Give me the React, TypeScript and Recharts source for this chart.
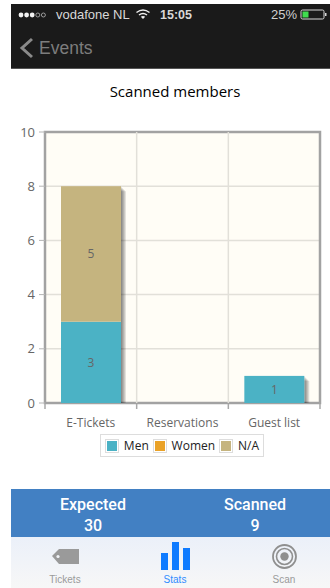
import React from 'react';
import { BarChart, Bar, XAxis, YAxis, CartesianGrid, Legend, LabelList, ReferenceArea, ReferenceLine } from 'recharts';

const categories = ['E-Tickets', 'Reservations', 'Guest list'];
const men = [3, 0, 1];
const women = [0, 0, 0];
const notAvailable = [5, 0, 0];
const yTicks = [0, 2, 4, 6, 8, 10];
const bandEdges = [0, 1, 2, 3];

const seriesNames = ['Men', 'Women', 'N/A'];
const seriesColors = ['#4bb2c5', '#eaa228', '#c5b47f'];

const expected = 30;
const scanned = 9;
const tabs = ['Tickets', 'Stats', 'Scan'];

const data = categories.map((name, i) => ({
  name,
  edge: bandEdges[i],
  men: men[i],
  women: women[i],
  na: notAvailable[i],
}));

const CHART_FONT = '"Open Sans", sans-serif';
const UI_FONT = '"Liberation Sans", sans-serif';

// bar with a soft stepped shadow strip on its right side, kept inside the plot
const ShadowBar = (props: any) => {
  const { x, y, width, height, fill, background } = props;
  if (!height || height <= 0) return null;
  const floor = background ? background.y + background.height : y + height;
  const layers = [1, 2, 3, 4, 5];
  return (
    <g>
      {layers.map((d) => (
        <rect
          key={d}
          x={x + width}
          y={y + d}
          width={d}
          height={Math.max(Math.min(y + height + d, floor) - (y + d), 0)}
          fill="#000"
          fillOpacity={0.11}
        />
      ))}
      <rect x={x} y={y} width={width} height={height} fill={fill} />
    </g>
  );
};

const valueLabel = (v: any) => (v ? v : '');

const ChartLegend = () => (
  <div
    style={{
      boxSizing: 'border-box',
      height: 23,
      width: 164,
      border: '1px solid #dddddd',
      background: '#fff',
      display: 'flex',
      alignItems: 'center',
      paddingLeft: 4,
      fontFamily: CHART_FONT,
      fontSize: 12,
      color: '#222',
    }}
  >
    {seriesNames.map((name, i) => (
      <React.Fragment key={name}>
        <span
          style={{
            boxSizing: 'border-box',
            width: 16,
            height: 14,
            border: '1px solid #dddddd',
            padding: 1,
            marginRight: 5,
            display: 'inline-block',
          }}
        >
          <span style={{ display: 'block', width: '100%', height: '100%', background: seriesColors[i] }} />
        </span>
        <span style={{ marginRight: 4 }}>{name}</span>
      </React.Fragment>
    ))}
  </div>
);

const Box = ({ l, t, w, h, style, children }: any) => (
  <div style={{ position: 'absolute', left: l, top: t, width: w, height: h, ...style }}>{children}</div>
);

const CenterText = ({ cx, cy, size, color, weight, font, children }: any) => (
  <div
    style={{
      position: 'absolute',
      left: cx - 80,
      width: 160,
      top: cy - 12,
      height: 24,
      lineHeight: '24px',
      textAlign: 'center',
      fontSize: size,
      color,
      fontWeight: weight,
      fontFamily: font || UI_FONT,
      whiteSpace: 'nowrap',
    }}
  >
    {children}
  </div>
);

const StatusBar = () => (
  <>
    <svg style={{ position: 'absolute', left: 18, top: 11 }} width="30" height="8">
      {[0, 1, 2].map((i) => (
        <circle key={i} cx={3 + i * 5.6} cy={4} r={2.4} fill="#f2f2f2" />
      ))}
      {[3, 4].map((i) => (
        <circle key={i} cx={3 + i * 5.6} cy={4} r={2} fill="none" stroke="#cccccc" strokeWidth={0.7} />
      ))}
    </svg>
    <div style={{ position: 'absolute', left: 56, top: 7, lineHeight: '16px', fontSize: 13, color: '#d8d8d8', fontFamily: UI_FONT }}>
      vodafone NL
    </div>
    <svg style={{ position: 'absolute', left: 135, top: 8 }} width="16" height="12" fill="none" stroke="#eeeeee" strokeWidth={1.5}>
      <path d="M1.5 4.5 Q8 -0.5 14.5 4.5" />
      <path d="M4 7 Q8 3.8 12 7" />
      <path d="M8 11 L5.8 8.8 Q8 7.2 10.2 8.8 Z" fill="#eeeeee" stroke="none" />
    </svg>
    <div style={{ position: 'absolute', left: 160, top: 7, lineHeight: '16px', fontSize: 12.5, fontWeight: 700, color: '#d8d8d8', fontFamily: UI_FONT }}>
      15:05
    </div>
    <div style={{ position: 'absolute', left: 271, top: 7, lineHeight: '16px', fontSize: 13, color: '#d0d0d0', fontFamily: UI_FONT }}>
      25%
    </div>
    <svg style={{ position: 'absolute', left: 300, top: 9 }} width="30" height="11">
      <rect x="1" y="1" width="23" height="9" fill="none" stroke="#d8d8d8" strokeWidth={1} rx={1.5} />
      <rect x="2.5" y="2.5" width="6" height="6" fill="#3fdc4f" />
      <rect x="25" y="4" width="1.5" height="3" fill="#d8d8d8" />
    </svg>
  </>
);

const TabIcons = () => (
  <>
    {/* price tag */}
    <svg style={{ position: 'absolute', left: 52, top: 547 }} width="28" height="18">
      <path d="M0 9 L7 2 L27 2 L27 17 L7 17 Z" fill="#9a9a9a" />
      <circle cx="6" cy="9.5" r="1.6" fill="#f2f4f8" />
    </svg>
    {/* stats bars */}
    <svg style={{ position: 'absolute', left: 160, top: 541 }} width="31" height="30" fill="#0f7bff">
      <rect x="1" y="12" width="7" height="17" />
      <rect x="12" y="1" width="7" height="28" />
      <rect x="23" y="7" width="7" height="22" />
    </svg>
    {/* target */}
    <svg style={{ position: 'absolute', left: 271, top: 543 }} width="27" height="27" fill="none" stroke="#8f8f8f">
      <circle cx="13.5" cy="13.5" r="11.5" strokeWidth={1.8} />
      <circle cx="13.5" cy="13.5" r="8" strokeWidth={1.6} />
      <circle cx="13.5" cy="13.5" r="4.2" fill="#8f8f8f" strokeWidth={0} />
    </svg>
  </>
);

export default function App() {
  return (
    <div style={{ position: 'absolute', left: 0, top: 0, width: 330, height: 588, overflow: 'hidden', background: '#fff' }}>
      <Box l={11} t={4} w={319} h={65} style={{ background: '#1a1a1a', borderBottom: '1px solid #555', boxSizing: 'border-box' }} />
      <StatusBar />
      <svg style={{ position: 'absolute', left: 19, top: 37 }} width="16" height="22" fill="none" stroke="#8a8a8a" strokeWidth={3}>
        <path d="M13 2 L3 11 L13 20" />
      </svg>
      <div style={{ position: 'absolute', left: 39, top: 36, lineHeight: '24px', fontSize: 17.5, color: '#7d7d7d', fontFamily: UI_FONT }}>
        Events
      </div>

      <CenterText cx={175} cy={91} size={15} color="#000" font={CHART_FONT}>Scanned members</CenterText>

      <div style={{ position: 'absolute', left: 0, top: 120 }}>
        <BarChart
          width={330}
          height={345}
          data={data}
          barSize={60}
          margin={{ top: 12, right: 10, left: 0, bottom: 2 }}
        >
          <CartesianGrid stroke="#e2e0d9" strokeWidth={1.5} vertical={false} fill="#fffdf6" fillOpacity={1} />
          {/* category axis sits first, so the boundary axis ticks land right under the plot */}
          <XAxis
            dataKey="name"
            height={1}
            tickLine={false}
            axisLine={false}
            tickMargin={9}
            interval={0}
            tick={{ fontSize: 12, fill: '#666', fontFamily: CHART_FONT }}
          />
          <XAxis
            xAxisId="edges"
            dataKey="edge"
            type="number"
            domain={[0, 3]}
            allowDataOverflow
            ticks={bandEdges}
            interval={0}
            height={36}
            tick={() => <g />}
            tickSize={5}
            tickLine={{ stroke: '#a8a8a8', strokeWidth: 1.5 }}
            axisLine={false}
          />
          <YAxis
            width={45}
            domain={[0, 10]}
            ticks={yTicks}
            tickSize={6}
            tickMargin={4}
            tickLine={{ stroke: '#b5b5b5', strokeWidth: 1 }}
            axisLine={false}
            tick={{ fontSize: 13, fill: '#666', fontFamily: CHART_FONT }}
          />
          {bandEdges.slice(1, -1).map((edge) => (
            <ReferenceLine key={edge} xAxisId="edges" x={edge} stroke="#e2e0d9" strokeWidth={1.5} />
          ))}
          <Bar dataKey="men" name={seriesNames[0]} stackId="a" fill={seriesColors[0]} shape={ShadowBar} isAnimationActive={false}>
            <LabelList dataKey="men" position="center" formatter={valueLabel} fill="#666" fontSize={12} fontFamily={CHART_FONT} />
          </Bar>
          <Bar dataKey="women" name={seriesNames[1]} stackId="a" fill={seriesColors[1]} shape={ShadowBar} isAnimationActive={false}>
            <LabelList dataKey="women" position="center" formatter={valueLabel} fill="#666" fontSize={12} fontFamily={CHART_FONT} />
          </Bar>
          <Bar dataKey="na" name={seriesNames[2]} stackId="a" fill={seriesColors[2]} shape={ShadowBar} isAnimationActive={false}>
            <LabelList dataKey="na" position="center" formatter={valueLabel} fill="#666" fontSize={12} fontFamily={CHART_FONT} />
          </Bar>
          <ReferenceArea
            xAxisId="edges"
            x1={0}
            x2={3}
            y1={0}
            y2={10}
            fill="none"
            stroke="#a2a2a2"
            strokeWidth={2.5}
            ifOverflow="visible"
          />
          <Legend
            content={<ChartLegend />}
            wrapperStyle={{ position: 'absolute', left: 100, top: 314, bottom: 'auto', width: 164 }}
          />
        </BarChart>
      </div>

      <Box l={11} t={489} w={319} h={48} style={{ background: '#4280c3' }} />
      <CenterText cx={93} cy={505} size={16} color="#fff" weight={500} font="Roboto, sans-serif">Expected</CenterText>
      <CenterText cx={93} cy={526} size={16} color="#fff" weight={500} font="Roboto, sans-serif">{expected}</CenterText>
      <CenterText cx={255} cy={505} size={16} color="#fff" weight={500} font="Roboto, sans-serif">Scanned</CenterText>
      <CenterText cx={255} cy={526} size={16} color="#fff" weight={500} font="Roboto, sans-serif">{scanned}</CenterText>

      <Box l={11} t={537} w={319} h={51} style={{ background: 'linear-gradient(#ebf0f9, #f7f7f7)' }} />
      <TabIcons />
      <CenterText cx={65} cy={580} size={10} color="#9a9a9a">{tabs[0]}</CenterText>
      <CenterText cx={175} cy={580} size={10} color="#2f8cff">{tabs[1]}</CenterText>
      <CenterText cx={284} cy={580} size={10} color="#9a9a9a">{tabs[2]}</CenterText>
    </div>
  );
}
